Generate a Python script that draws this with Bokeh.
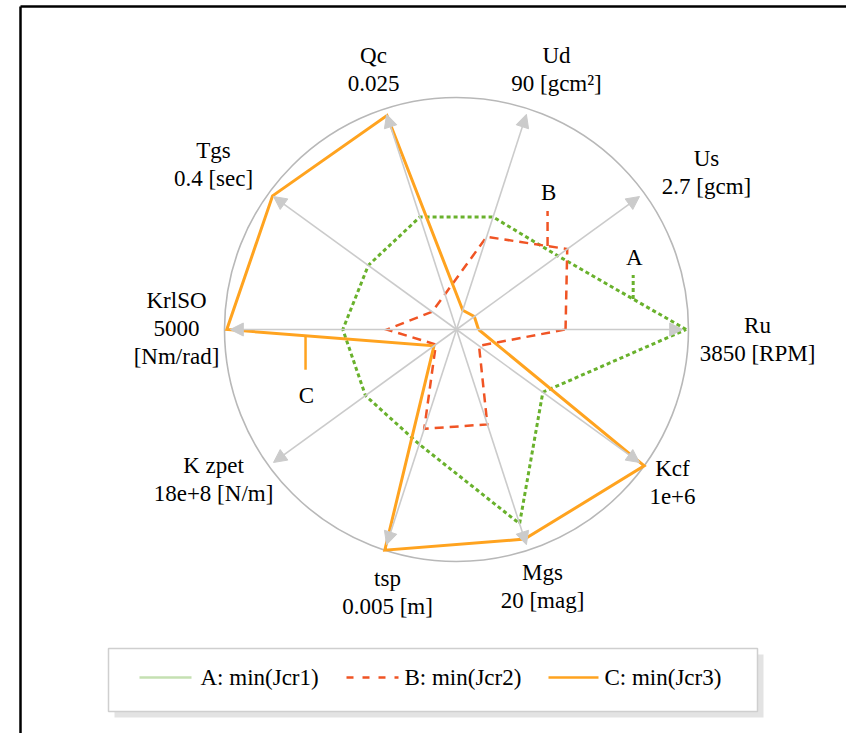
import numpy as np
from bokeh.plotting import figure
from bokeh.models import Range1d, Arrow, NormalHead
from bokeh.core.properties import value
from bokeh.embed import file_html
from bokeh.resources import INLINE

# ---------------- data ----------------
axes_names = ["Ru", "Us", "Ud", "Qc", "Tgs", "KrlSO", "K zpet", "tsp", "Mgs", "Kcf"]
axes_scale = ["3850 [RPM]", "2.7 [gcm]", "90 [gcm²]", "0.025", "0.4 [sec]",
              "5000\n[Nm/rad]", "18e+8 [N/m]", "0.005 [m]", "20 [mag]", "1e+6"]
series_A = [0.99, 0.54, 0.51, 0.51, 0.47, 0.49, 0.485, 0.52, 0.88, 0.46]
series_B = [0.47, 0.59, 0.42, 0.16, 0.13, 0.30, 0.11, 0.45, 0.43, 0.12]
series_C = [0.095, 0.095, 0.087, 0.97, 0.98, 0.99, 0.12, 1.0, 0.95, 1.0]
legend_labels = ["A: min(Jcr1)", "B: min(Jcr2)", "C: min(Jcr3)"]
marker_labels = ["A", "B", "C"]

# ---------------- layout ----------------
W, H = 846, 733
CX, CY, R = 456, 329, 232
ARROW_R = 0.975
FONT = value("Liberation Serif")
COL_A, COL_B, COL_C = "#69b12c", "#f05424", "#ffa31f"
AXIS_COL = "#cbcbcb"

n = len(axes_names)
ang = np.deg2rad(np.arange(n) * 360.0 / n)

def to_xy(vals):
    v = np.asarray(vals, dtype=float)
    return CX + v * R * np.cos(ang), CY - v * R * np.sin(ang)

p = figure(width=W, height=H, x_range=Range1d(0, W), y_range=Range1d(H, 0),
           output_backend="svg", toolbar_location=None,
           min_border=0, min_border_left=0, min_border_right=0,
           min_border_top=0, min_border_bottom=0)
p.axis.visible = False
p.grid.visible = False
p.outline_line_color = None
p.background_fill_color = "white"

# frame lines (top and left)
p.segment(x0=[20, 20], y0=[6, 6], x1=[W, 20], y1=[6, H], line_color="black", line_width=2.5)

# outer circle
p.circle(x=[CX], y=[CY], radius=R, fill_color=None, line_color="#b8b8b8", line_width=1.6)

# axis arrows
ax_x, ax_y = to_xy([ARROW_R] * n)
for xe, ye in zip(ax_x, ax_y):
    p.add_layout(Arrow(x_start=CX, y_start=CY, x_end=xe, y_end=ye,
                       line_color=AXIS_COL, line_width=1.6,
                       end=NormalHead(size=13, fill_color=AXIS_COL, line_color=AXIS_COL, line_width=1)))

# series polygons
for vals, col, dash, lw in [(series_A, COL_A, "4 3", 3), (series_B, COL_B, "9 6", 2.5),
                            (series_C, COL_C, "solid", 3)]:
    xs, ys = to_xy(vals)
    xs = list(xs) + [xs[0]]
    ys = list(ys) + [ys[0]]
    p.line(xs, ys, line_color=col, line_width=lw, line_dash=dash, line_join="miter")

# series markers (short leader + letter), attached to a polygon segment
def seg_point(vals, i0, i1, t):
    xs, ys = to_xy(vals)
    return xs[i0] + t * (xs[i1] - xs[i0]), ys[i0] + t * (ys[i1] - ys[i0])

mk = [(series_A, 1, 0, 0.587, -24, -42, COL_A, "4 3", 3),
      (series_B, 1, 2, 0.244, -35, -54, COL_B, "9 6", 2.5),
      (series_C, 5, 6, 0.38, 34, 60, COL_C, "solid", 2.5)]
for (vals, i0, i1, t, dl, dt, col, dash, lw), lab in zip(mk, marker_labels):
    mx, my = seg_point(vals, i0, i1, t)
    p.line([mx, mx], [my, my + dl], line_color=col, line_width=lw, line_dash=dash)
    p.text(x=[mx + 1], y=[my + dt], text=[lab], text_font=FONT, text_font_size="23px",
           text_align="center", text_baseline="middle", text_color="#000000")

# axis labels (block centres in px, layout only)
label_pos = [(757, 339), (706, 172), (556, 69), (373, 69), (213, 164),
             (176, 328), (213, 479), (387, 592), (542, 586), (672, 482)]
for name, sc, (lx, ly) in zip(axes_names, axes_scale, label_pos):
    lines = [name] + sc.split("\n")
    nl = len(lines)
    for k, t in enumerate(lines):
        p.text(x=[lx], y=[ly + (k - (nl - 1) / 2) * 28], text=[t], text_font=FONT,
               text_font_size="23px", text_align="center", text_baseline="middle",
               text_color="#000000")

# legend box with shadow
p.quad(left=[114], right=[763], top=[654], bottom=[717], fill_color="#e3e3e3", line_color=None)
p.quad(left=[108], right=[757], top=[648], bottom=[711], fill_color="white",
       line_color="#cfcfcf", line_width=1.5)
leg_y = 677
leg_items = [(139, 191, "#c5e0b2", "solid", 200), (346, 398, COL_B, "7 9", 404), (548, 598, COL_C, "solid", 604)]
for (x0, x1, col, dash, tx), lab in zip(leg_items, legend_labels):
    p.line([x0, x1], [leg_y, leg_y], line_color=col, line_width=2.5, line_dash=dash)
    p.text(x=[tx], y=[leg_y], text=[lab], text_font=FONT, text_font_size="23px",
           text_align="left", text_baseline="middle", text_color="#000000")

open("out.html", "w").write(file_html(p, INLINE))
